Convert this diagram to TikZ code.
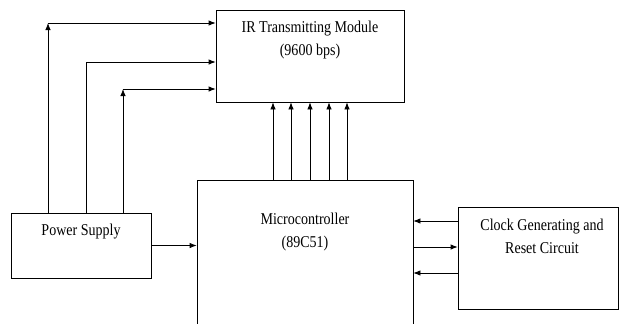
\documentclass[tikz,border=0pt]{standalone}
\usepackage{fontspec}
\setmainfont{Liberation Serif}
\usetikzlibrary{arrows.meta}

\begin{document}
\begin{tikzpicture}[x=1pt, y=-1pt, line width=0.8pt,
    blk/.style={draw, rectangle, inner sep=0pt},
    lbl/.style={align=center, xscale=0.85, font=\fontsize{16.5}{23}\selectfont},
    arr/.style={-{Latex[length=7pt, width=5.5pt]}}]
    \useasboundingbox (0,0) rectangle (619,324);
    \clip (0,0) rectangle (619,324);

    % Blocks
    \node[blk, minimum width=188pt, minimum height=92pt] (ir) at (310,56) {};
    \node[blk, minimum width=216pt, minimum height=200pt] (mcu) at (305,280) {};
    \node[blk, minimum width=140pt, minimum height=65pt] (psu) at (81,245.5) {};
    \node[blk, minimum width=160pt, minimum height=102pt] (clk) at (538,258) {};

    % Labels
    \node[lbl] (irtxt) at (310,40) {IR Transmitting Module\\(9600 bps)};
    \node[lbl] (mcutxt) at (305,232) {Microcontroller\\(89C51)};
    \node[lbl] (psutxt) at (81,232) {Power Supply};
    \node[lbl] (clktxt) at (542,236) {Clock Generating and\\Reset Circuit};

    % Power supply feeds
    \draw[arr] (psu.east) -- (psu.east -| mcu.west);
    \foreach \x/\y in {48/23, 123/89} {
        \draw[arr] (psu.north -| \x,0) -- (\x,\y);
        \draw[arr] (\x,\y) -- (ir.west |- 0,\y);
    }
    \draw[arr] (psu.north -| 86,0) |- (ir.west |- 0,62);

    % Data lines to the IR module
    \foreach \x in {273,291,310,329,347}
        \draw[arr] (mcu.north -| \x,0) -- (ir.south -| \x,0);

    % Clock and reset
    \draw[arr] (clk.west |- 0,221) -- (mcu.east |- 0,221);
    \draw[arr] (mcu.east |- 0,247) -- (clk.west |- 0,247);
    \draw[arr] (clk.west |- 0,273) -- (mcu.east |- 0,273);
\end{tikzpicture}
\end{document}
